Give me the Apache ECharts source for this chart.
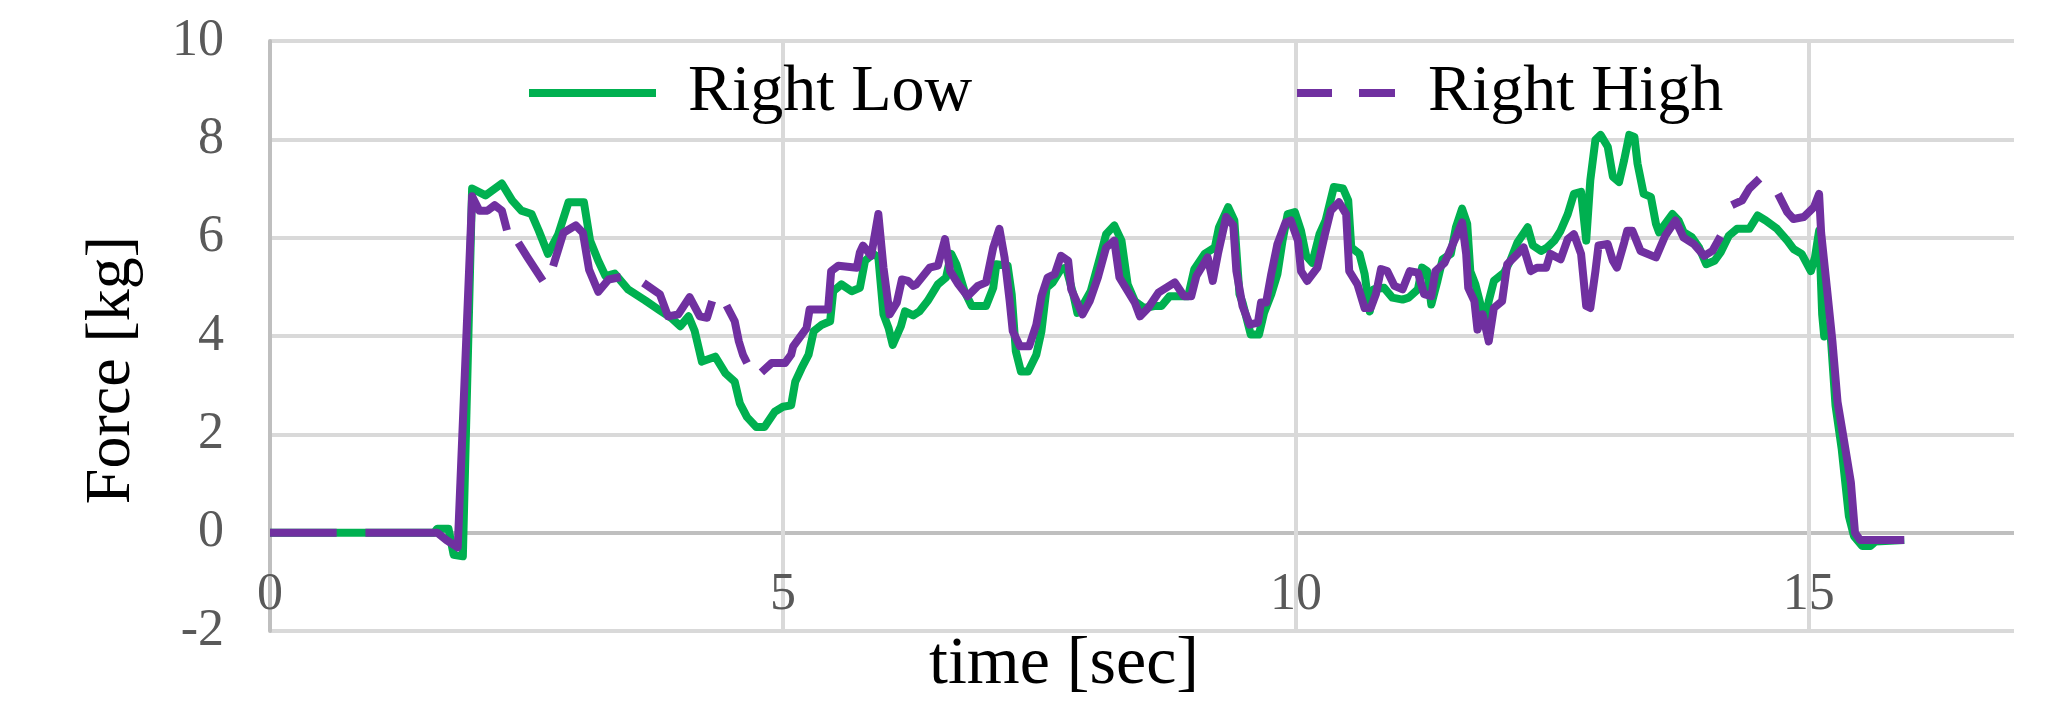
<!DOCTYPE html>
<html>
<head>
<meta charset="utf-8">
<script src="https://cdn.jsdelivr.net/npm/echarts@6/dist/echarts.min.js"></script>
<style>
html,body{margin:0;padding:0;background:#ffffff;}
#chart{width:2066px;height:701px;}
</style>
</head>
<body>
<div id="chart"></div>
<script>
// ---- data ----
const seriesNames = ['Right Low', 'Right High'];
const xTickValues = [0, 5, 10, 15];
const xMax = 17;
const yTickValues = [-2, 0, 2, 4, 6, 8, 10];
const xTitle = 'time [sec]';
const yTitle = 'Force [kg]';

// Right Low (green, solid)
const lowT = [
  0, 1.60, 1.63, 1.74, 1.79, 1.88, 1.97, 2.10, 2.26, 2.36,
  2.45, 2.55, 2.62, 2.71, 2.81, 2.91, 3.06, 3.12, 3.20, 3.27,
  3.36, 3.49, 3.66, 3.80, 3.91, 4.00, 4.08, 4.14, 4.21, 4.34,
  4.44, 4.53, 4.58, 4.65, 4.74, 4.82, 4.92, 5.00, 5.08, 5.12,
  5.18, 5.25, 5.30, 5.38, 5.46, 5.49, 5.57, 5.67, 5.75, 5.80,
  5.88, 5.93, 5.98, 6.03, 6.07, 6.15, 6.19, 6.27, 6.33, 6.41,
  6.51, 6.59, 6.64, 6.69, 6.77, 6.84, 6.98, 7.05, 7.08, 7.19,
  7.23, 7.27, 7.32, 7.39, 7.47, 7.52, 7.57, 7.63, 7.71, 7.76,
  7.83, 7.87, 7.92, 8.00, 8.10, 8.15, 8.23, 8.30, 8.36, 8.43,
  8.52, 8.62, 8.69, 8.77, 8.95, 9.01, 9.11, 9.21, 9.25, 9.34,
  9.40, 9.45, 9.48, 9.56, 9.64, 9.69, 9.76, 9.82, 9.87, 9.92,
  9.99, 10.05, 10.10, 10.16, 10.23, 10.29, 10.37, 10.46, 10.51, 10.54,
  10.62, 10.67, 10.72, 10.76, 10.86, 10.94, 11.04, 11.10, 11.19, 11.23,
  11.28, 11.32, 11.38, 11.43, 11.51, 11.56, 11.62, 11.67, 11.70, 11.75,
  11.80, 11.84, 11.88, 11.93, 12.03, 12.09, 12.16, 12.26, 12.31, 12.39,
  12.45, 12.52, 12.58, 12.65, 12.71, 12.78, 12.83, 12.87, 12.92, 12.97,
  13.04, 13.09, 13.15, 13.20, 13.25, 13.30, 13.33, 13.39, 13.46, 13.51,
  13.54, 13.60, 13.67, 13.73, 13.78, 13.86, 13.93, 14.00, 14.08, 14.14,
  14.22, 14.30, 14.42, 14.50, 14.58, 14.69, 14.79, 14.85, 14.93, 15.02,
  15.06, 15.10, 15.13, 15.15, 15.21, 15.26, 15.32, 15.39, 15.44, 15.52,
  15.60, 15.65, 15.93
];
const lowV = [
  0, 0, 0.08, 0.08, -0.45, -0.48, 7.00, 6.86, 7.10, 6.76,
  6.55, 6.48, 6.14, 5.67, 6.07, 6.72, 6.72, 5.94, 5.53, 5.22,
  5.27, 4.95, 4.72, 4.52, 4.37, 4.20, 4.40, 4.10, 3.48, 3.58,
  3.24, 3.07, 2.63, 2.35, 2.15, 2.15, 2.46, 2.56, 2.59, 3.07,
  3.34, 3.62, 4.10, 4.23, 4.30, 4.91, 5.05, 4.91, 4.98, 5.53,
  5.67, 5.60, 4.44, 4.16, 3.82, 4.20, 4.50, 4.42, 4.50, 4.71,
  5.05, 5.19, 5.67, 5.46, 4.91, 4.61, 4.61, 4.98, 5.46, 5.43,
  4.85, 3.69, 3.28, 3.28, 3.62, 4.10, 4.98, 5.09, 5.36, 5.39,
  4.85, 4.47, 4.61, 4.91, 5.67, 6.07, 6.25, 5.94, 5.05, 4.71,
  4.57, 4.61, 4.61, 4.81, 4.81, 5.36, 5.67, 5.80, 6.21, 6.62,
  6.35, 4.85, 4.68, 4.03, 4.03, 4.47, 4.85, 5.26, 5.94, 6.48,
  6.52, 6.14, 5.63, 5.49, 6.07, 6.35, 7.03, 7.00, 6.76, 5.80,
  5.67, 5.26, 4.50, 4.95, 4.98, 4.78, 4.74, 4.78, 4.95, 5.39,
  5.32, 4.64, 5.12, 5.56, 5.67, 6.21, 6.59, 6.28, 5.32, 5.05,
  4.64, 4.23, 4.71, 5.12, 5.29, 5.53, 5.90, 6.21, 5.84, 5.73,
  5.80, 5.94, 6.14, 6.48, 6.89, 6.93, 5.94, 7.17, 7.99, 8.09,
  7.85, 7.24, 7.13, 7.58, 8.09, 8.05, 7.51, 6.89, 6.83, 6.28,
  6.11, 6.28, 6.48, 6.35, 6.11, 6.01, 5.80, 5.46, 5.53, 5.70,
  6.04, 6.18, 6.18, 6.45, 6.35, 6.18, 5.94, 5.77, 5.67, 5.32,
  5.60, 6.14, 4.44, 3.99, 4.10, 2.59, 1.71, 0.34, -0.07, -0.27,
  -0.27, -0.18, -0.15
];

// Right High (purple, dashed; null = visible break in the line)
const highT = [
  0, 0.65, 0.79, 0.93, 1.63, 1.72, 1.83, 1.97, 2.04, 2.12,
  2.19, 2.26, 2.31, 2.37, 2.42, 2.51, 2.66, 2.71, 2.76, 2.86,
  2.98, 3.05, 3.11, 3.20, 3.30, 3.42, 3.53, 3.64, 3.80, 3.88,
  3.98, 4.09, 4.19, 4.26, 4.31, 4.38, 4.45, 4.53, 4.57, 4.61,
  4.65, 4.72, 4.79, 4.89, 5.02, 5.08, 5.10, 5.23, 5.26, 5.44,
  5.47, 5.54, 5.72, 5.75, 5.78, 5.86, 5.93, 5.98, 6.04, 6.11,
  6.16, 6.22, 6.27, 6.30, 6.43, 6.51, 6.58, 6.63, 6.71, 6.80,
  6.90, 6.98, 7.05, 7.11, 7.16, 7.21, 7.24, 7.31, 7.40, 7.47,
  7.52, 7.58, 7.65, 7.71, 7.78, 7.81, 7.92, 7.99, 8.07, 8.15,
  8.23, 8.28, 8.35, 8.43, 8.48, 8.56, 8.66, 8.82, 8.91, 8.98,
  9.03, 9.14, 9.19, 9.24, 9.32, 9.39, 9.42, 9.48, 9.55, 9.63,
  9.66, 9.71, 9.76, 9.82, 9.90, 9.95, 10.02, 10.05, 10.11, 10.21,
  10.28, 10.34, 10.42, 10.49, 10.52, 10.60, 10.67, 10.73, 10.78, 10.83,
  10.89, 10.96, 11.04, 11.11, 11.19, 11.25, 11.32, 11.36, 11.45, 11.56,
  11.62, 11.66, 11.68, 11.74, 11.77, 11.82, 11.88, 11.93, 12.01, 12.06,
  12.16, 12.22, 12.29, 12.35, 12.44, 12.48, 12.58, 12.65, 12.71, 12.78,
  12.83, 12.87, 12.92, 12.95, 13.04, 13.09, 13.13, 13.20, 13.23, 13.28,
  13.36, 13.51, 13.60, 13.70, 13.78, 13.88, 13.98, 14.06, 14.14, 14.19,
  14.25, 14.35, 14.42, 14.52, 14.61, 14.70, 14.79, 14.85, 14.95, 15.05,
  15.10, 15.12, 15.18, 15.23, 15.28, 15.34, 15.41, 15.45, 15.50, 15.93
];
const highV = [
  0, 0, null, 0, 0, -0.15, -0.30, 6.84, 6.55, 6.55,
  6.66, 6.55, 6.15, null, 5.90, 5.60, 5.12, null, 5.42, 6.10,
  6.25, 6.10, 5.35, 4.90, 5.15, 5.20, null, 5.08, 4.85, 4.40,
  4.44, 4.79, 4.40, 4.37, 4.71, null, 4.62, 4.30, 3.89, 3.62,
  3.45, null, 3.26, 3.45, 3.45, 3.62, 3.79, 4.16, 4.54, 4.54,
  5.32, 5.43, 5.39, 5.70, 5.84, 5.63, 6.48, 5.39, 4.44, 4.68,
  5.15, 5.12, 5.02, 5.05, 5.39, 5.43, 5.97, 5.32, 5.05, 4.81,
  5.02, 5.09, 5.80, 6.18, 5.60, 4.71, 4.10, 3.79, 3.79, 4.23,
  4.81, 5.19, 5.26, 5.63, 5.53, 4.95, 4.44, 4.71, 5.19, 5.80,
  5.94, 5.19, 4.95, 4.68, 4.40, 4.57, 4.88, 5.09, 4.81, 4.81,
  5.22, 5.60, 5.12, 5.67, 6.42, 6.25, 5.32, 4.61, 4.23, 4.27,
  4.68, 4.68, 5.26, 5.87, 6.31, 6.35, 5.94, 5.32, 5.12, 5.39,
  6.04, 6.55, 6.72, 6.48, 5.32, 5.05, 4.57, 4.57, 4.85, 5.36,
  5.32, 5.02, 4.95, 5.32, 5.29, 4.85, 4.81, 5.32, 5.49, 6.01,
  6.31, 5.67, 4.98, 4.71, 4.13, 4.44, 3.89, 4.57, 4.71, 5.46,
  5.67, 5.80, 5.32, 5.39, 5.39, 5.67, 5.56, 5.97, 6.07, 5.67,
  4.61, 4.57, 5.32, 5.84, 5.87, 5.53, 5.39, 5.90, 6.14, 6.14,
  5.73, 5.60, 6.04, 6.35, 6.00, 5.87, 5.63, 5.73, 6.03, null,
  6.66, 6.76, 7.00, 7.20, null, 6.89, 6.52, 6.38, 6.42, 6.62,
  6.89, 6.10, 4.90, 3.89, 2.66, 1.91, 1.02, 0.00, -0.15, -0.15
];

// ---- chart ----
const FONT = '"Liberation Serif", "Times New Roman", serif';
const GREEN = '#00B050';
const PURPLE = '#7030A0';
const GRID_LIGHT = '#d9d9d9';
const GRID_AXIS = '#bfbfbf';

const chart = echarts.init(document.getElementById('chart'), null, {renderer: 'canvas'});

const lowData = lowT.map((t, i) => [t, lowV[i]]);
const highData = highT.map((t, i) => [t, highV[i]]);

// horizontal grid lines: the zero line is the (darker) horizontal axis line
const yLineColors = yTickValues.map(v => (v === 0 ? GRID_AXIS : GRID_LIGHT));

const legendCommon = {
  top: 60,
  padding: 0,
  itemHeight: 8,
  selectedMode: false,
  itemStyle: {borderWidth: 0},
  textStyle: {fontFamily: FONT, fontSize: 66, color: '#000000'}
};

chart.setOption({
  animation: false,
  backgroundColor: '#ffffff',
  grid: {left: 270, right: 52, top: 41, bottom: 70, containLabel: false, outerBoundsMode: 'none'},
  legend: [
    Object.assign({}, legendCommon, {
      left: 529,
      itemWidth: 127,
      data: [{name: seriesNames[0], icon: 'path://M0,0H127V8H0Z'}],
      textStyle: Object.assign({}, legendCommon.textStyle, {padding: [0, 0, 0, 27]})
    }),
    Object.assign({}, legendCommon, {
      left: 1297,
      itemWidth: 98,
      data: [{name: seriesNames[1], icon: 'path://M0,0H35V8H0ZM62,0H98V8H62Z'}],
      textStyle: Object.assign({}, legendCommon.textStyle, {padding: [0, 0, 0, 28]})
    })
  ],
  xAxis: {
    type: 'value',
    min: xTickValues[0],
    max: xMax,
    interval: xTickValues[1] - xTickValues[0],
    name: xTitle,
    nameLocation: 'middle',
    nameGap: 0,
    nameMoveOverlap: false,
    nameTextStyle: {fontFamily: FONT, fontSize: 68, color: '#000000', padding: [0, 156, 0, 0]},
    axisLine: {show: false, onZero: false},
    axisTick: {show: false},
    axisLabel: {fontFamily: FONT, fontSize: 52, color: '#595959', margin: -62, showMaxLabel: false},
    splitLine: {show: true, showMinLine: false, showMaxLine: false, lineStyle: {color: GRID_LIGHT, width: 4}}
  },
  yAxis: {
    type: 'value',
    min: yTickValues[0],
    max: yTickValues[yTickValues.length - 1],
    interval: yTickValues[1] - yTickValues[0],
    name: yTitle,
    nameLocation: 'middle',
    nameRotate: 90,
    nameGap: 126,
    nameTextStyle: {fontFamily: FONT, fontSize: 64, color: '#000000', padding: [0, 68, 0, 0]},
    axisLine: {show: true, onZero: false, lineStyle: {color: GRID_AXIS, width: 4}},
    axisTick: {show: false},
    axisLabel: {fontFamily: FONT, fontSize: 52, color: '#595959', margin: 46},
    splitLine: {show: true, lineStyle: {color: yLineColors, width: 4}}
  },
  series: [
    {
      type: 'line',
      name: seriesNames[0],
      data: lowData,
      symbol: 'none',
      showSymbol: false,
      color: GREEN,
      itemStyle: {color: GREEN},
      lineStyle: {color: GREEN, width: 8, join: 'round', cap: 'butt'},
      emphasis: {disabled: true}
    },
    {
      type: 'line',
      name: seriesNames[1],
      data: highData,
      symbol: 'none',
      showSymbol: false,
      connectNulls: false,
      color: PURPLE,
      itemStyle: {color: PURPLE},
      lineStyle: {color: PURPLE, width: 8, join: 'round', cap: 'butt'},
      emphasis: {disabled: true}
    }
  ]
});
</script>
</body>
</html>
